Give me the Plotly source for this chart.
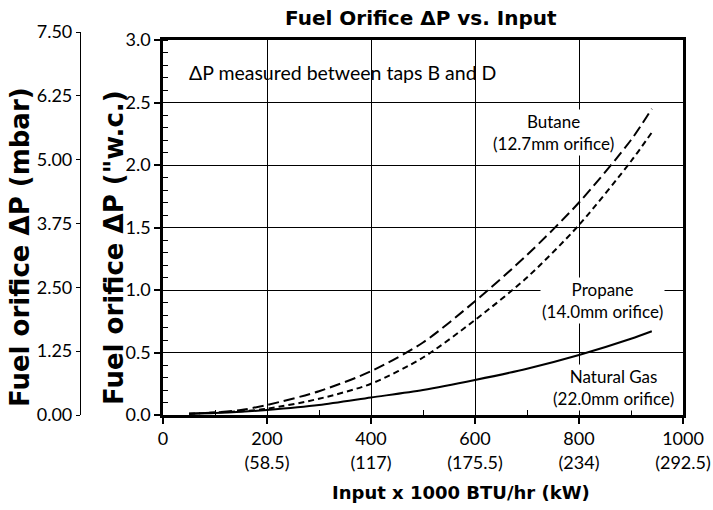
import plotly.graph_objects as go

# ---- data ----
input_kbtu = [50, 100, 150, 200, 300, 400, 500, 600, 700, 800, 900, 940]
butane_dp = [0.01, 0.02, 0.04, 0.08, 0.19, 0.35, 0.58, 0.91, 1.28, 1.70, 2.20, 2.45]
propane_dp = [0.01, 0.02, 0.03, 0.05, 0.13, 0.25, 0.46, 0.76, 1.10, 1.52, 2.03, 2.26]
natgas_dp = [0.01, 0.015, 0.025, 0.04, 0.08, 0.14, 0.20, 0.28, 0.37, 0.48, 0.61, 0.67]

x_tickvals = [0, 200, 400, 600, 800, 1000]
x_ticktext = ["0", "200<br>(58.5)", "400<br>(117)", "600<br>(175.5)", "800<br>(234)", "1000<br>(292.5)"]
y_tickvals = [0.0, 0.5, 1.0, 1.5, 2.0, 2.5, 3.0]
mbar_tickvals = [0.0, 1.25, 2.5, 3.75, 5.0, 6.25, 7.5]

FONT = "Lato"
BOLD = "DejaVu Sans"
W, H = 713, 510

fig = go.Figure()
fig.add_trace(go.Scatter(x=input_kbtu, y=butane_dp, mode="lines",
                         line=dict(color="black", width=2, dash="11px,5px", shape="spline", smoothing=0.8),
                         name="Butane"))
fig.add_trace(go.Scatter(x=input_kbtu, y=propane_dp, mode="lines",
                         line=dict(color="black", width=2, dash="6px,4px", shape="spline", smoothing=0.8),
                         name="Propane"))
fig.add_trace(go.Scatter(x=input_kbtu, y=natgas_dp, mode="lines",
                         line=dict(color="black", width=2, shape="spline", smoothing=0.8),
                         name="Natural Gas"))
# dummy trace to carry the secondary (mbar) axis
fig.add_trace(go.Scatter(x=[0], y=[0], mode="markers", marker=dict(opacity=0),
                         xaxis="x2", yaxis="y2", hoverinfo="skip", showlegend=False))

xdom = [163 / W, 683 / W]
fig.update_layout(
    width=W, height=H,
    margin=dict(l=0, r=0, t=0, b=0, pad=0),
    paper_bgcolor="white", plot_bgcolor="rgba(0,0,0,0)",
    showlegend=False,
    font=dict(family=FONT, color="black", size=15),
    xaxis=dict(
        domain=xdom, range=[0, 1000], anchor="y", automargin=False,
        showline=True, linecolor="black", linewidth=2.5, mirror=True,
        tickmode="array", tickvals=x_tickvals, ticktext=x_ticktext,
        ticks="outside", ticklen=6, tickwidth=1.5, tickcolor="black",
        showgrid=True, gridcolor="black", gridwidth=1.3, zeroline=False,
        minor=dict(tickmode="array", tickvals=[100, 300, 500, 700, 900],
                   ticks="inside", ticklen=5, tickwidth=1.3, tickcolor="black", showgrid=False),
        tickfont=dict(size=18, family=FONT),
    ),
    yaxis=dict(
        domain=[(H - 415) / H, (H - 40) / H], range=[0, 3], anchor="x", automargin=False,
        showline=True, linecolor="black", linewidth=2.5, mirror=True,
        tickmode="array", tickvals=y_tickvals, tickformat=".1f",
        ticks="outside", ticklen=6, tickwidth=1.5, tickcolor="black",
        showgrid=True, gridcolor="black", gridwidth=1.3, zeroline=False,
        minor=dict(dtick=0.1, tick0=0, ticks="inside", ticklen=5, tickwidth=1.3,
                   tickcolor="black", showgrid=False),
        tickfont=dict(size=18, family=FONT),
    ),
    xaxis2=dict(domain=xdom, range=[0, 1000], anchor="y2", visible=False, automargin=False),
    yaxis2=dict(
        domain=[(H - 415) / H, (H - 32) / H], range=[0, 7.5],
        anchor="free", position=80 / W, automargin=False,
        showline=True, linecolor="black", linewidth=1.2,
        tickmode="array", tickvals=mbar_tickvals, tickformat=".2f",
        ticks="outside", ticklen=4, tickwidth=1.2, tickcolor="black",
        showgrid=False, zeroline=False,
        tickfont=dict(size=18, family=FONT),
    ),
)

def pann(text, px, py, size, family=BOLD, angle=0):
    return dict(text=text, x=px / W, y=1 - py / H, xref="paper", yref="paper",
                xanchor="center", yanchor="middle", textangle=angle, showarrow=False,
                font=dict(size=size, family=family))

ann = [
    pann("<b>Fuel Orifice ΔP vs. Input</b>", 421, 18, 20),
    pann("<b>Input x 1000 BTU/hr (kW)</b>", 461, 492, 18),
    pann("<b>Fuel orifice ΔP (\"w.c.)</b>", 114, 248, 26, angle=-90),
    pann("<b>Fuel orifice ΔP (mbar)</b>", 20, 247, 26, angle=-90),
]
ann.append(dict(text="ΔP measured between taps B and D", x=46, y=2.74, xref="x", yref="y",
                xanchor="left", yanchor="middle", showarrow=False, font=dict(size=19.5)))
ann.append(dict(text="Butane<br>(12.7mm orifice)", x=751, y=2.26, xref="x", yref="y",
                xanchor="center", yanchor="middle",
                showarrow=False, font=dict(size=17), bgcolor="white"))
ann.append(dict(text="Propane<br>(14.0mm orifice)", x=845, y=0.92, xref="x", yref="y",
                xanchor="center", yanchor="middle",
                showarrow=False, font=dict(size=17), bgcolor="white"))
ann.append(dict(text="Natural Gas<br>(22.0mm orifice)", x=867, y=0.22, xref="x", yref="y",
                xanchor="center", yanchor="middle",
                showarrow=False, font=dict(size=17), bgcolor="white"))
fig.update_layout(annotations=ann)

fig.write_html("out.html", config={"displayModeBar": False},
               post_script="document.body.style.margin='0px';")
